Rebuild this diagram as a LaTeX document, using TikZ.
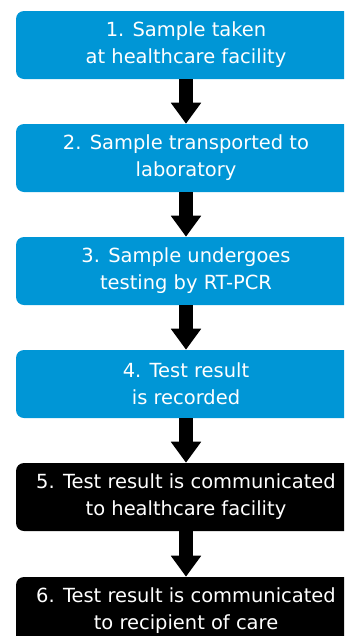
\documentclass[tikz,border=0pt]{standalone}
\usepackage{fontspec}
\setmainfont{DejaVu Sans}
\usetikzlibrary{arrows.meta}

\definecolor{stepblue}{RGB}{0,150,214}

\begin{document}
\begin{tikzpicture}[%
      x=0.75pt, y=-0.75pt,
      stepbox/.style={rounded corners=6pt, minimum width=255pt, minimum height=51pt,
        align=center, text=white, inner sep=0pt,
        font=\fontsize{14.6}{20.2}\selectfont},
      bluebox/.style={stepbox, fill=stepblue},
      blackbox/.style={stepbox, fill=black},
      flow/.style={draw=black, line width=10.5pt,
        -{Triangle[width=21.75pt,length=15.75pt]}},
      ]
      \useasboundingbox (0,0) rectangle (344,636);
      \clip (0,0) rectangle (344,636);

      \node [bluebox] (s1) at (186,45) {1. Sample taken\\at healthcare facility};
      \node [bluebox] (s2) at (186,158) {2. Sample transported to\\laboratory};
      \node [bluebox] (s3) at (186,271) {3. Sample undergoes\\testing by RT-PCR};
      \node [bluebox] (s4) at (186,384) {4. Test result\\is recorded};
      \node [blackbox] (s5) at (186,497) {5. Test result is communicated\\to healthcare facility};
      \node [blackbox] (s6) at (186,611) {6. Test result is communicated\\to recipient of care};

      \draw [flow] (s1) -- (s2);
      \draw [flow] (s2) -- (s3);
      \draw [flow] (s3) -- (s4);
      \draw [flow] (s4) -- (s5);
      \draw [flow] (s5) -- (s6);
\end{tikzpicture}
\end{document}
